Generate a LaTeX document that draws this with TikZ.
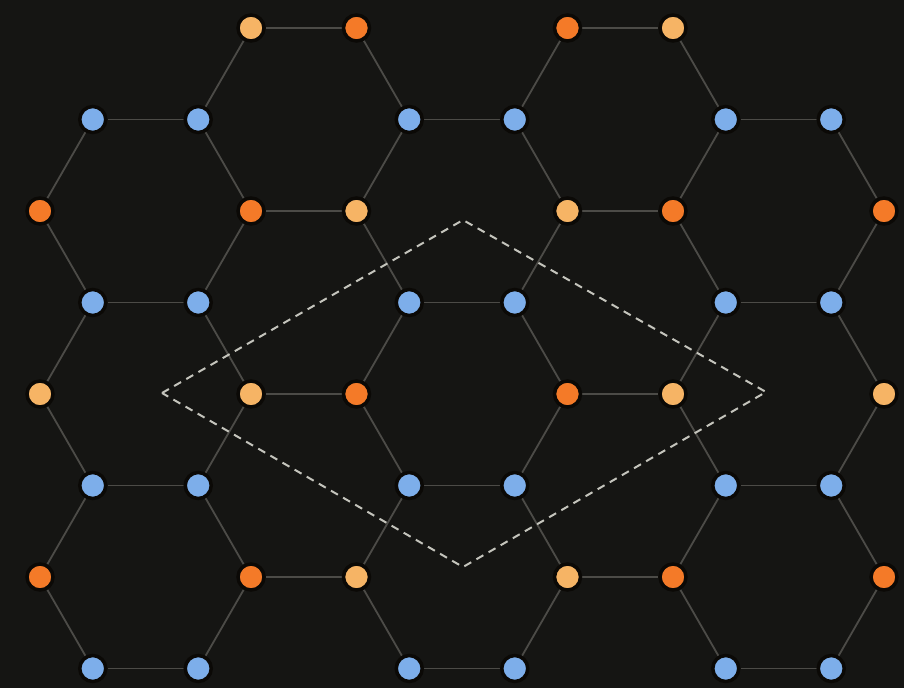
\documentclass[tikz,border=0pt]{standalone}
\usetikzlibrary{backgrounds}
\definecolor{bgc}{HTML}{151513}
\definecolor{edgec}{HTML}{4C4B47}
\definecolor{bluec}{HTML}{7DAEEA}
\definecolor{orangec}{HTML}{F47A28}
\definecolor{lightc}{HTML}{F6B465}
\definecolor{ringc}{HTML}{0B0906}
\definecolor{dashc}{HTML}{C4C4BC}
\tikzset{
  site/.style={circle, draw=ringc, line width=3.5pt, minimum size=26pt, inner sep=0pt},
  bsite/.style={site, fill=bluec},
  osite/.style={site, fill=orangec},
  lsite/.style={site, fill=lightc},
  bond/.style={draw=edgec, line width=1.8pt},
  cell/.style={draw=dashc, line width=2pt, dash pattern=on 8pt off 6pt}
}
\begin{document}
\begin{tikzpicture}[x=1pt,y=-1pt]
\useasboundingbox (0,0) rectangle (904,688);
% odd rows: blue sites
\foreach \j in {1,3,5,7}{
  \foreach \k in {1,3,7,9,13,15}{
    \node[bsite] (n-\k-\j) at ({40+\k*52.75},{28+\j*91.5}) {};
  }
}
% row 0
\foreach \k/\s in {4/lsite,6/osite,10/osite,12/lsite}{
  \node[\s] (n-\k-0) at ({40+\k*52.75},28) {};
}
% rows 2 and 6
\foreach \j in {2,6}{
  \foreach \k/\s in {0/osite,4/osite,6/lsite,10/lsite,12/osite,16/osite}{
    \node[\s] (n-\k-\j) at ({40+\k*52.75},{28+\j*91.5}) {};
  }
}
% row 4
\foreach \k/\s in {0/lsite,4/lsite,6/osite,10/osite,12/lsite,16/lsite}{
  \node[\s] (n-\k-4) at ({40+\k*52.75},{28+4*91.5}) {};
}
\coordinate (cl) at (162,393);
\coordinate (ct) at (463,220);
\coordinate (cr) at (766,392);
\coordinate (cb) at (463,567);
\begin{pgfonlayer}{background}
  \fill[bgc] (0,0) rectangle (904,688);
  \foreach \j in {1,3,5,7}{
    \foreach \a/\b in {1/3,7/9,13/15}{
      \draw[bond] (n-\a-\j) -- (n-\b-\j);
    }
  }
  \foreach \j in {0,2,4,6}{
    \foreach \a/\b in {4/6,10/12}{
      \draw[bond] (n-\a-\j) -- (n-\b-\j);
    }
  }
  \foreach \j in {1,3,5,7}{
    \pgfmathtruncatemacro{\jm}{\j-1}
    \pgfmathtruncatemacro{\jp}{\j+1}
    \foreach \k/\kk in {1/0,3/4,7/6,9/10,13/12,15/16}{
      \ifcsname pgf@sh@ns@n-\kk-\jm\endcsname
        \draw[bond] (n-\k-\j) -- (n-\kk-\jm);
      \fi
      \ifcsname pgf@sh@ns@n-\kk-\jp\endcsname
        \draw[bond] (n-\k-\j) -- (n-\kk-\jp);
      \fi
    }
  }
  \draw[cell] (cl) -- (ct) -- (cr) -- (cb) -- cycle;
\end{pgfonlayer}
\end{tikzpicture}
\end{document}
